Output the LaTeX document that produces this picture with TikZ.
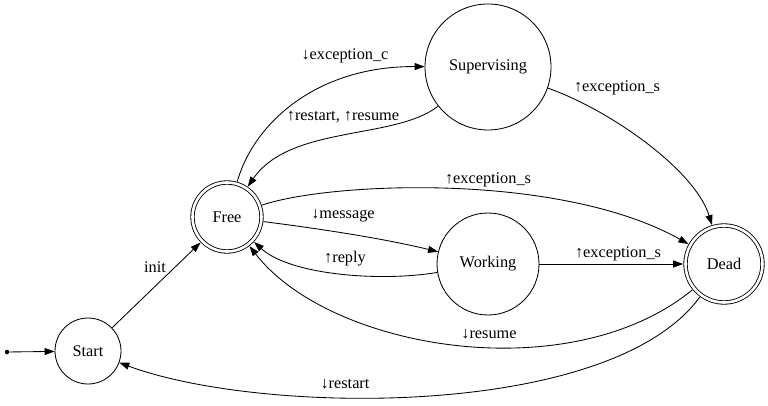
\documentclass[tikz,border=0pt]{standalone}
\usepackage{fontspec}
\setmainfont{Liberation Serif}
\usetikzlibrary{arrows.meta}

\begin{document}
\begin{tikzpicture}[
    x=1pt, y=-1pt,
    state/.style={draw, circle, line width=0.85pt, inner sep=0pt, font=\fontsize{16.3}{19}\selectfont},
    accept/.style={state, double, double distance=2.6pt, outer sep=2.3pt},
    lbl/.style={font=\fontsize{16.3}{19}\selectfont, inner sep=1pt},
    arr/.style={-{Triangle[length=10pt, width=7pt]}, line width=0.85pt}
  ]
    \useasboundingbox (0,0) rectangle (768,406);

    \node[circle, fill, inner sep=0pt, minimum size=4.5pt] (dot) at (7,352) {};
    \node[state, minimum size=66pt] (start) at (88,351) {Start};
    \node[accept, minimum size=69pt] (free) at (227,217) {Free};
    \node[state, minimum size=126pt] (sup) at (488,67) {Supervising};
    \node[state, minimum size=102pt] (work) at (488,264) {Working};
    \node[accept, minimum size=77pt] (dead) at (724,264) {Dead};

    \draw[arr] (dot) -- (start);
    \draw[arr] (start) -- (free);
    \draw[arr] (free) .. controls (255,120) and (320,66) .. (sup);
    \draw[arr] (sup) .. controls (395,140) and (290,125) .. (free);
    \draw[arr] (sup) .. controls (610,110) and (695,170) .. (dead);
    \draw[arr] (free) .. controls (330,182) and (560,172) .. (dead);
    \draw[arr] (free) .. controls (330,230) and (390,240) .. (work);
    \draw[arr] (work) .. controls (380,282) and (290,275) .. (free);
    \draw[arr] (work) -- (dead);
    \draw[arr] (dead) .. controls (570,390) and (330,350) .. (free);
    \draw[arr] (dead) .. controls (610,420) and (260,415) .. (start);

    % edge labels
    \node[lbl] (l-init) at (155,267) {init};
    \node[lbl] (l-exc) at (345,56) {↓exception\_c};
    \node[lbl] (l-restres) at (343,117) {↑restart, ↑resume};
    \node[lbl] (l-exs1) at (617,88) {↑exception\_s};
    \node[lbl] (l-exs2) at (488,180) {↑exception\_s};
    \node[lbl] (l-msg) at (343,216) {↓message};
    \node[lbl] (l-reply) at (345,259) {↑reply};
    \node[lbl] (l-exs3) at (618,254) {↑exception\_s};
    \node[lbl] (l-resume) at (489,334) {↓resume};
    \node[lbl] (l-restart) at (345,384) {↓restart};
  \end{tikzpicture}
\end{document}
